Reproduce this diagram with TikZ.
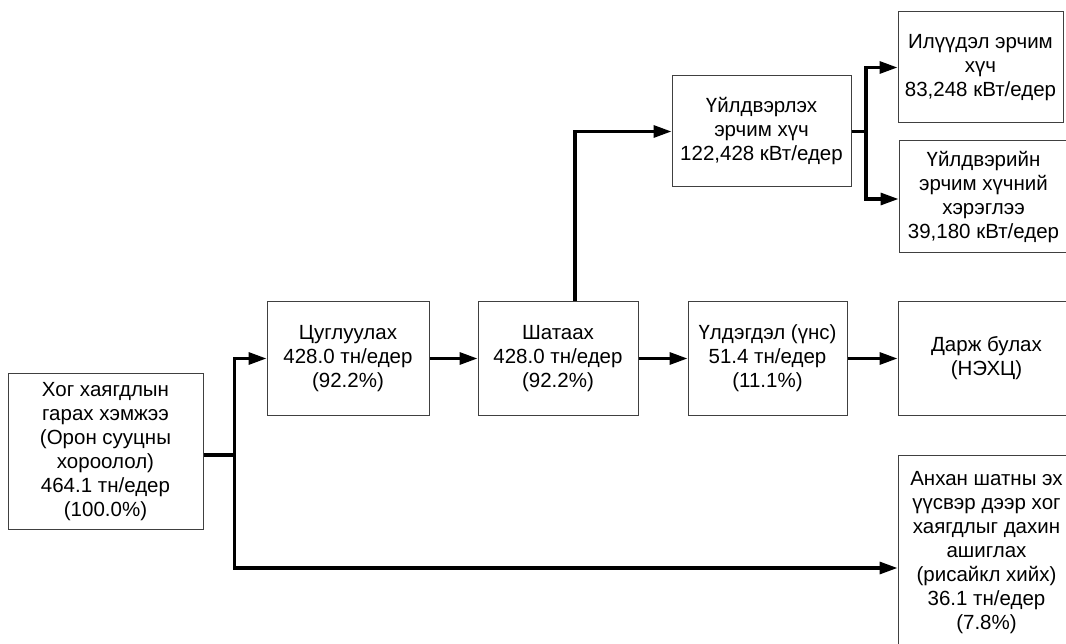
\documentclass[tikz,border=0pt]{standalone}
\usepackage{fontspec}
\setmainfont{Liberation Sans}
\usetikzlibrary{arrows.meta}
\tikzset{
  box/.style={draw=black!75, line width=1pt, rectangle, inner sep=0pt, align=center,
    font=\fontsize{20.5}{24}\selectfont},
  link/.style={line width=3.2pt},
  arr/.style={line width=3.2pt, -{Triangle[length=18pt,width=12pt]}},
}
\begin{document}
\begin{tikzpicture}[x=1pt,y=-1pt]
\useasboundingbox (0,0) rectangle (1066,644);
\clip (0,0) rectangle (1066,644);
\node[box, minimum width=195pt, minimum height=155pt] (src) at (105.5,451.5)
  {Хог хаягдлын\\гарах хэмжээ\\(Орон сууцны\\хороолол)\\464.1 тн/едер\\(100.0\%)};
\node[box, minimum width=162pt, minimum height=113pt] (collect) at (348,358.5)
  {Цуглуулах\\428.0 тн/едер\\(92.2\%)};
\node[box, minimum width=160pt, minimum height=113pt] (burn) at (558,358.5)
  {Шатаах\\428.0 тн/едер\\(92.2\%)};
\node[box, minimum width=159pt, minimum height=113pt] (ash) at (767.5,358.5)
  {Үлдэгдэл (үнс)\\51.4 тн/едер\\(11.1\%)};
\node[box, minimum width=177pt, minimum height=113pt] (landfill) at (986.5,358.5)
  {Дарж булах\\(НЭХЦ)};
\node[box, minimum width=179pt, minimum height=111pt] (energy) at (761.5,131.5)
  {Үйлдвэрлэх\\эрчим хүч\\122,428 кВт/едер};
\node[box, minimum width=165pt, minimum height=111pt] (surplus) at (980.5,67.5)
  {Илүүдэл эрчим\\хүч\\83,248 кВт/едер};
\node[box, minimum width=169pt, minimum height=112pt] (consume) at (983.5,197)
  {Үйлдвэрийн\\эрчим хүчний\\хэрэглээ\\39,180 кВт/едер};
\node[box, minimum width=177pt, minimum height=195pt] (recycle) at (986.5,552.5)
  {Анхан шатны эх\\үүсвэр дээр хог\\хаягдлыг дахин\\ашиглах\\(рисайкл хийх)\\36.1 тн/едер\\(7.8\%)};
% source split
\draw[link] ([yshift=-3.5pt]src.east) -- ++(31,0) coordinate (t1);
\draw[arr] (t1) |- (collect.west);
\draw[arr] (t1) |- ([yshift=-15.5pt]recycle.west);
% main chain
\draw[arr] (collect.east) -- (burn.west);
\draw[arr] (burn.east) -- (ash.west);
\draw[arr] (ash.east) -- (landfill.west);
% energy branch
\draw[arr] ([xshift=17pt]burn.north) |- (energy.west);
\draw[link] (energy.east) -- ++(14.5,0) coordinate (t2);
\draw[arr] (t2) |- (surplus.west);
\draw[arr] (t2) |- ([yshift=-2pt]consume.west);
\end{tikzpicture}
\end{document}
